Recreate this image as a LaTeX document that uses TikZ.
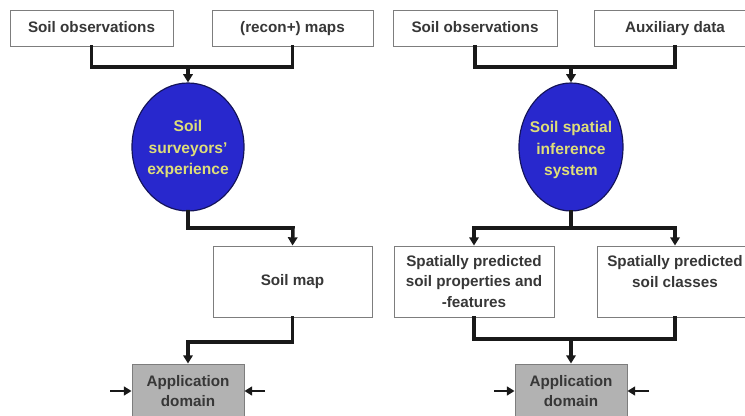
\documentclass[tikz,border=0pt]{standalone}
\usepackage{fontspec}
\setmainfont{Liberation Sans}
\usetikzlibrary{shapes.geometric,arrows.meta}

\definecolor{surveyblue}{RGB}{40,40,205}
\definecolor{ellipseedge}{RGB}{20,20,90}
\definecolor{labelyellow}{RGB}{222,222,120}
\definecolor{boxgray}{RGB}{125,125,125}
\definecolor{appgray}{RGB}{178,178,178}
\definecolor{txtgray}{RGB}{55,55,55}

\tikzset{
  databox/.style={draw=boxgray, line width=0.8pt, fill=white, text=txtgray,
    font=\fontsize{13}{17.5}\selectfont\bfseries, align=center,
    minimum height=1.08cm, inner sep=2pt},
  inputbox/.style={databox, text height=9.5pt, text depth=2.5pt},
  resultbox/.style={databox, minimum height=2.13cm},
  appbox/.style={databox, fill=appgray, minimum width=3.36cm, minimum height=1.62cm},
  expert/.style={ellipse, draw=ellipseedge, line width=1pt, fill=surveyblue,
    minimum height=3.84cm, inner sep=0pt},
  experttext/.style={text=labelyellow, font=\fontsize{13.3}{18}\selectfont\bfseries, align=center},
  link/.style={line width=3pt, draw=black!90, line cap=rect},
  arr/.style={link, -{Triangle[length=7pt,width=8pt]}},
  feed/.style={line width=2.3pt, draw=black!90, -{Triangle[length=6.5pt,width=7.5pt]}}
}

\begin{document}
\begin{tikzpicture}[x=0.03cm, y=-0.03cm]

  \clip (0,0) rectangle (745,416);

  % ==========================================
  % LEFT : CONVENTIONAL SOIL SURVEY
  % ==========================================
  \begin{scope}
    % Inputs
    \node[inputbox, minimum width=4.89cm] (obsL) at (91.5,28) {Soil observations};
    \node[inputbox, minimum width=4.83cm] (mapsL) at (292.5,28) {(recon+) maps};

    % Expert knowledge
    \node[expert, minimum width=3.36cm] (expL) at (188,147) {};
    \node[experttext] (expLtxt) at (188,149) {Soil\\surveyors'\\experience};

    % Output and use
    \node[resultbox, minimum width=4.77cm] (soilmap) at (292.5,281.5) {Soil map};
    \node[appbox] (appL) at (188,391) {Application\\domain};

    \coordinate (joinL) at (188,67);
    \coordinate (bendL) at (293,228);
    \coordinate (bendL2) at (188,342);
    \coordinate (inLa) at (110,391);
    \coordinate (inLb) at (265,391);

    \draw[link] (obsL.south) |- (joinL) -| (mapsL.south);
    \draw[arr] (joinL) -- (expL.north);
    \draw[arr] (expL.south) |- (bendL) -- (soilmap.north);
    \draw[arr] (soilmap.south) |- (bendL2) -- (appL.north);
    \draw[feed] (inLa) -- (appL.west);
    \draw[feed] (inLb) -- (appL.east);
  \end{scope}

  % ==========================================
  % RIGHT : DIGITAL SOIL MAPPING
  % ==========================================
  \begin{scope}
    % Inputs
    \node[inputbox, minimum width=4.92cm] (obsR) at (475,28) {Soil observations};
    \node[inputbox, minimum width=4.86cm] (auxR) at (675,28) {Auxiliary data};

    % Inference system
    \node[expert, minimum width=3.12cm] (sysR) at (571,147) {};
    \node[experttext] (sysRtxt) at (571,150) {Soil spatial\\inference\\system};

    % Predictions
    \node[resultbox, minimum width=4.8cm] (propR) at (474,281.5) {Spatially predicted\\soil properties and\\-features};
    \node[resultbox, minimum width=4.68cm] (classR) at (675,281.5) {Spatially predicted\\soil classes\\\mbox{}};
    \node[appbox] (appR) at (571,391) {Application\\domain};

    \coordinate (joinR) at (571,67);
    \coordinate (splitR) at (571,228);
    \coordinate (mergeR) at (571,339);
    \coordinate (inRa) at (494,391);
    \coordinate (inRb) at (649,391);

    \draw[link] (obsR.south) |- (joinR) -| (auxR.south);
    \draw[arr] (joinR) -- (sysR.north);
    \draw[link] (sysR.south) -- (splitR);
    \draw[arr] (splitR) -| (propR.north);
    \draw[arr] (splitR) -| (classR.north);
    \draw[link] (propR.south) |- (mergeR) -| (classR.south);
    \draw[arr] (mergeR) -- (appR.north);
    \draw[feed] (inRa) -- (appR.west);
    \draw[feed] (inRb) -- (appR.east);
  \end{scope}

\end{tikzpicture}
\end{document}
